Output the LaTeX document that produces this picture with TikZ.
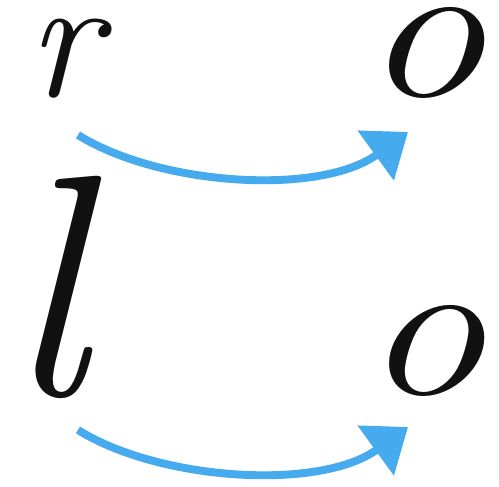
\documentclass[tikz,border=0pt]{standalone}
\usepackage{tikz}
\usetikzlibrary{arrows.meta}
\definecolor{ink}{HTML}{111111}
\definecolor{sky}{HTML}{45AAEE}
\tikzset{readarrow/.style={-{Triangle[length=8mm,width=12mm]},line width=4.5pt,sky},
letter/.style={font=\fontsize{100}{100}\selectfont\itshape,text=ink,anchor=base,inner sep=0pt},
tall/.style={letter,font=\fontsize{180}{180}\selectfont\itshape},
round/.style={letter,xscale=1.4,yscale=1.15}}
\begin{document}
\begin{tikzpicture}[x=.02cm,y=.02cm]
\useasboundingbox (0,0) rectangle (499,486);
\node[letter] (r) at (64,389) {r};
\node[round] (o1) at (424,389) {o};
\node[tall] (l) at (46,91) {l};
\node[round] (o2) at (424,91) {o};
\coordinate (s1) at (78,351);
\coordinate (e1) at (408,354);
\coordinate (s2) at (78,56);
\coordinate (e2) at (408,59);
\draw[readarrow] (s1) .. controls (160,300) and (320,290) .. (e1);
\draw[readarrow] (s2) .. controls (160,5) and (320,-5) .. (e2);
\end{tikzpicture}
\end{document}
